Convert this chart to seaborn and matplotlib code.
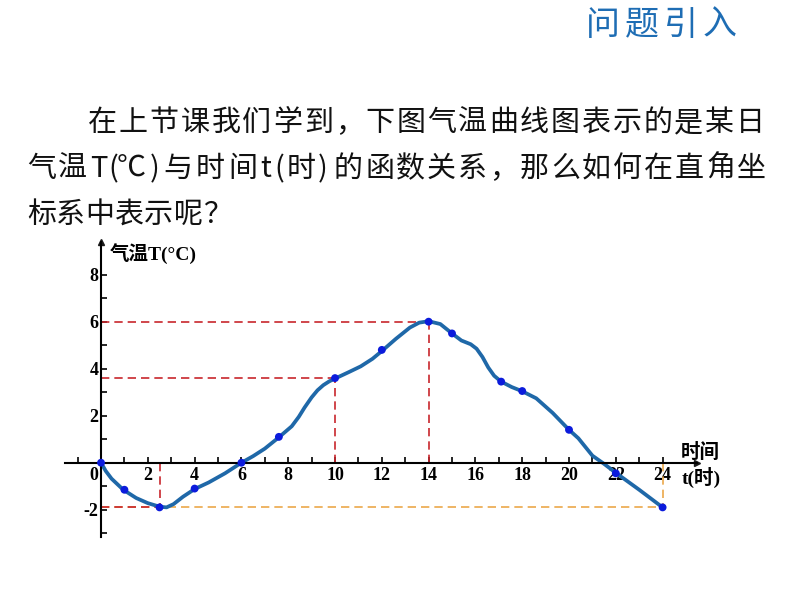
import numpy as np
import pandas as pd
import seaborn as sns
import matplotlib.pyplot as plt

# ---------------- data ----------------
hours_marked = [0, 1, 2.5, 4, 6, 7.6, 10, 12, 14, 15, 17.1, 18, 20, 22, 24]
temps_marked = [0, -1.15, -1.9, -1.1, 0, 1.1, 3.6, 4.8, 6.0, 5.5, 3.45, 3.05, 1.4, -0.45, -1.9]

curve_hours = [0, 0.2, 0.45, 0.95, 1.5, 2.0, 2.5, 2.8, 3.1, 3.5, 4.0, 4.6, 5.3, 6.0,
               6.5, 7.0, 7.6, 8.15, 8.45, 8.7, 9.0, 9.25, 9.5, 9.75, 10.0, 10.6, 11.1,
               11.6, 12.0, 12.6, 13.2, 13.6, 14.0, 14.5, 15.0, 15.4, 15.8, 16.05, 16.3,
               16.55, 16.8, 17.1, 17.55, 18.0, 18.6, 19.3, 20.0, 20.4, 21.0, 21.5, 22.0,
               23.0, 24.0]
curve_temps = [0, -0.35, -0.68, -1.15, -1.5, -1.72, -1.87, -1.9, -1.76, -1.45, -1.12,
               -0.84, -0.45, 0.0, 0.28, 0.6, 1.08, 1.55, 1.95, 2.35, 2.78, 3.08, 3.3,
               3.46, 3.58, 3.86, 4.1, 4.42, 4.75, 5.27, 5.75, 5.96, 6.02, 5.9, 5.5, 5.2,
               5.04, 4.85, 4.5, 4.05, 3.7, 3.45, 3.22, 3.04, 2.74, 2.12, 1.4, 1.04, 0.3,
               -0.05, -0.43, -1.15, -1.9]

x_ticks = list(range(-1, 25))
x_labels = ['' if (h <= 0 or h % 2) else str(h) for h in x_ticks]
y_ticks = list(range(-3, 9))
y_labels = [str(v) if v in (8, 6, 4, 2) else ('-2' if v == -2 else '') for v in y_ticks]

title_text = "问题引入"
line1 = "在上节课我们学到，下图气温曲线图表示的是某日"
line2_tokens = ["气", "温", "T", "(", "℃", ")", "与", "时", "间", "t", "(", "时", ")", "的",
                "函", "数", "关", "系", "，", "那", "么", "如", "何", "在", "直", "角", "坐"]
line3 = "标系中表示呢？"
y_axis_label = "气温T(°C)"
x_axis_label_1 = "时间"
x_axis_label_2 = "t(时)"

# ---------------- style ----------------
sns.set_theme(style='white')
plt.rcParams['font.family'] = ['Noto Sans CJK SC', 'DejaVu Sans']
plt.rcParams['axes.unicode_minus'] = False

W, H = 794, 596
fig = plt.figure(figsize=(W / 100, H / 100), dpi=100)
fig.patch.set_facecolor('white')


def fx(x):
    return x / W


def fy(y):
    return 1 - y / H


# title
title_x = [603, 642, 681, 720]
for ch, x in zip(title_text, title_x):
    fig.text(fx(x), fy(25), ch, ha='center', va='center', fontsize=24.5,
             color='#1e6db4', family=['Noto Sans CJK SC', 'DejaVu Sans'])

# paragraph
para_kw = dict(ha='left', va='baseline', fontsize=20.9, color='#111111',
               family=['Noto Sans CJK SC', 'DejaVu Sans'])
for i, ch in enumerate(line1):
    fig.text(fx(88 + i * 30.86), fy(131), ch, **para_kw)

line2_x = [27, 58, 90, 108, 117, 150, 163, 196, 228, 260, 274, 287, 318, 334]
line2_x += [334 + k * 31.0 for k in range(1, 14)]
for ch, x in zip(line2_tokens, line2_x):
    fig.text(fx(x), fy(177), ch, **para_kw)

for i, ch in enumerate(line3):
    fig.text(fx(27 + i * 29.3), fy(223), ch, **para_kw)

# ---------------- axes ----------------
ax = fig.add_axes([fx(65), fy(537), 632 / W, 295 / H])
ax.set_facecolor('none')

red = '#c8262c'
orange = '#eba84a'
dash = (0, (5, 3))

# guide lines from marked points
peak_t, peak_T = hours_marked[8], temps_marked[8]
mid_t, mid_T = hours_marked[6], temps_marked[6]
low_t, low_T = hours_marked[2], temps_marked[2]
end_t, end_T = hours_marked[-1], temps_marked[-1]

ax.plot([0, end_t], [end_T, end_T], color=orange, lw=1.2, ls=dash, zorder=2)
ax.plot([end_t, end_t], [0, end_T], color=orange, lw=1.2, ls=dash, zorder=2)
ax.plot([0, low_t], [low_T, low_T], color=red, lw=1.2, ls=dash, zorder=2)
ax.plot([low_t, low_t], [0, low_T], color=red, lw=1.2, ls=dash, zorder=2)
ax.plot([0, peak_t], [peak_T, peak_T], color=red, lw=1.2, ls=dash, zorder=2)
ax.plot([peak_t, peak_t], [0, peak_T], color=red, lw=1.2, ls=dash, zorder=2)
ax.plot([0, mid_t], [mid_T, mid_T], color=red, lw=1.2, ls=dash, zorder=2)
ax.plot([mid_t, mid_t], [0, mid_T], color=red, lw=1.2, ls=dash, zorder=2)

curve_df = pd.DataFrame({'t': curve_hours, 'T': curve_temps})
sns.lineplot(data=curve_df, x='t', y='T', sort=False, estimator=None,
             color='#1f68a8', lw=2.7, ax=ax, zorder=3)
pts_df = pd.DataFrame({'t': hours_marked, 'T': temps_marked})
sns.scatterplot(data=pts_df, x='t', y='T', color='#0b1bdc', s=32,
                edgecolor='none', ax=ax, zorder=5)

ax.set_xlim(-1.54, 25.47)
ax.set_ylim(-3.16, 9.39)
ax.set_xlabel('')
ax.set_ylabel('')
ax.grid(False)

for s in ('top', 'right'):
    ax.spines[s].set_visible(False)
ax.spines['left'].set_position(('data', 0))
ax.spines['bottom'].set_position(('data', 0))
for s in ('left', 'bottom'):
    ax.spines[s].set_color('black')
    ax.spines[s].set_linewidth(1.5)
    ax.spines[s].set_zorder(4)

ax.plot(1, 0, '>k', ms=4.5, transform=ax.get_yaxis_transform(), clip_on=False)
ax.plot(0, 1, '^k', ms=4.5, transform=ax.get_xaxis_transform(), clip_on=False)

tick_font = dict(family='Liberation Serif', fontweight='bold', fontsize=13)
ax.set_xticks(x_ticks)
ax.set_xticklabels(x_labels, **tick_font)
ax.set_yticks(y_ticks)
ax.set_yticklabels(y_labels, **tick_font)
ax.tick_params(axis='x', bottom=True, direction='in', length=4.5, width=1.2,
               pad=3, colors='black')
ax.tick_params(axis='y', left=True, direction='in', length=4.5, width=1.2,
               pad=2, colors='black')

fig.text(fx(94), fy(475), '0', ha='center', va='center', **tick_font, color='black')

lab_family = ['Liberation Serif', 'Noto Sans CJK SC']
fig.text(fx(110), fy(254), y_axis_label, ha='left', va='center', fontsize=14,
         family=lab_family, fontweight='bold', color='black')
fig.text(fx(700), fy(452), x_axis_label_1, ha='center', va='center', fontsize=14,
         family=lab_family, fontweight='bold', color='black')
fig.text(fx(701), fy(477), x_axis_label_2, ha='center', va='center', fontsize=14,
         family=lab_family, fontweight='bold', color='black')

fig.savefig('out.png', dpi=100, facecolor='white')
